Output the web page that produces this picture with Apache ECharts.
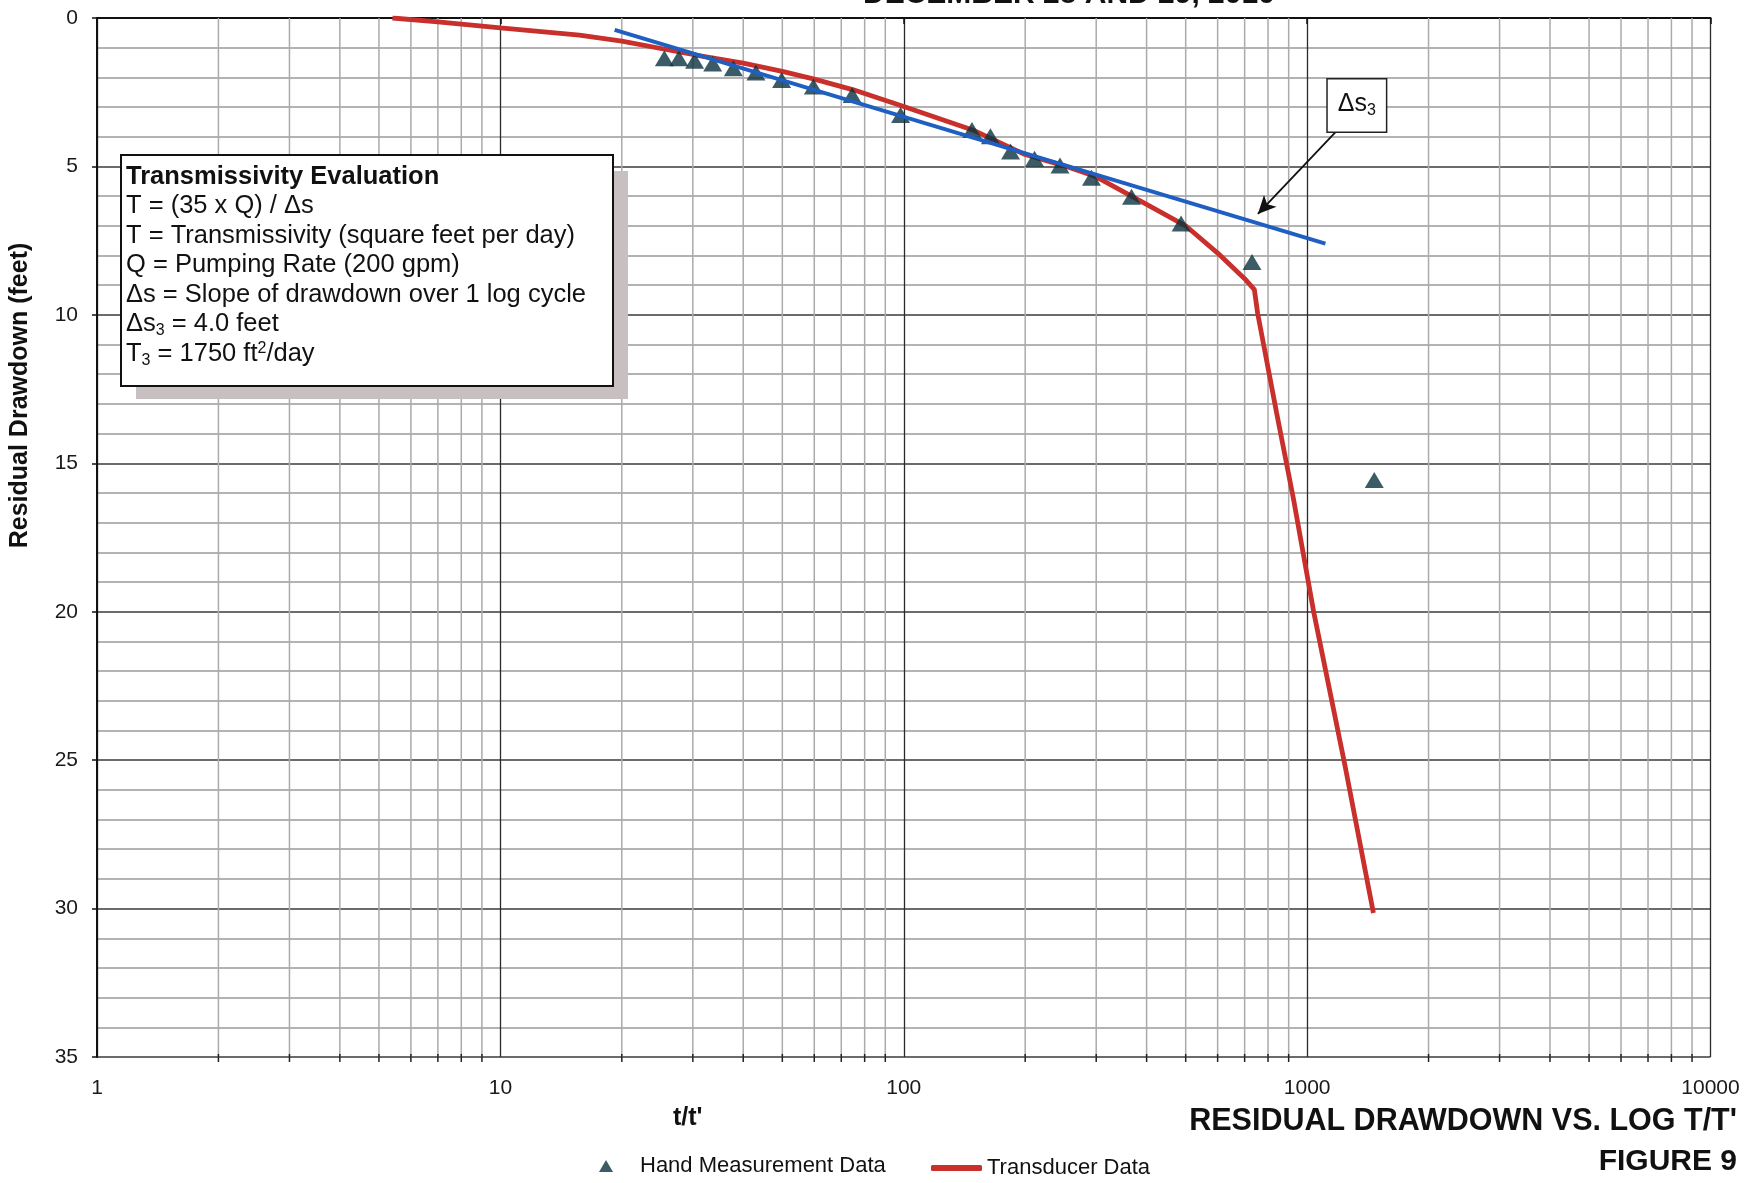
<!DOCTYPE html>
<html>
<head>
<meta charset="utf-8">
<script src="https://cdn.jsdelivr.net/npm/echarts@6/dist/echarts.min.js"></script>
<style>
html,body{margin:0;padding:0;background:#fff;}
#chart{width:1760px;height:1183px;}
</style>
</head>
<body>
<div id="chart"></div>
<script>
// ---------- data ----------
const handT = [25.5, 27.7, 30.3, 33.6, 37.8, 43.0, 49.8, 59.7, 74.5, 98.2, 147.6, 164, 184, 211, 244, 292, 367, 487, 730, 1467];
const handS = [1.36, 1.36, 1.44, 1.53, 1.69, 1.84, 2.09, 2.31, 2.59, 3.27, 3.77, 3.98, 4.50, 4.74, 4.97, 5.38, 6.02, 6.92, 8.22, 15.56];

const transducerT = [5.4, 7, 10, 15.7, 20, 30, 40, 50, 60, 75, 100, 150, 200, 250, 300, 400, 500, 600, 700, 740, 754, 840, 925, 1038, 1242, 1460];
const transducerS = [0.0, 0.13, 0.33, 0.58, 0.78, 1.23, 1.52, 1.80, 2.06, 2.42, 2.98, 3.80, 4.60, 4.98, 5.35, 6.28, 7.00, 7.92, 8.78, 9.15, 9.95, 13.3, 16.2, 20.0, 25.2, 30.15];

const fitT = [19.2, 1110];
const fitS = [0.40, 7.60];

const xTickValues = [1, 10, 100, 1000, 10000];
const yTickValues = [0, 5, 10, 15, 20, 25, 30, 35];
const minorMultipliers = [2, 3, 4, 5, 6, 7, 8, 9];
const decades = [1, 10, 100, 1000];

const arrowFrom = [1205, 3.69];
const arrowTo = [755, 6.6];
const deltaLabelAt = [1328, 2.95];

const titleText = 'DECEMBER 28 AND 29, 2010';
const footerTitle = "RESIDUAL DRAWDOWN VS. LOG T/T'";
const footerFigure = 'FIGURE 9';
const xName = "t/t'";
const yName = 'Residual Drawdown (feet)';
const handName = 'Hand Measurement Data';
const transName = 'Transducer Data';
const boxLines = [
  '{b|Transmissivity Evaluation}',
  '{n|T = (35 x Q) / Δs}',
  '{n|T = Transmissivity (square feet per day)}',
  '{n|Q = Pumping Rate (200 gpm)}',
  '{n|Δs = Slope of drawdown over 1 log cycle}',
  '{n|Δs}{sub|3}{n| = 4.0 feet}',
  '{n|T}{sub|3}{n| = 1750 ft}{sup|2}{n|/day}'
];

// ---------- build ----------
const FONT = '"Liberation Sans", Arial, sans-serif';
const minorX = [];
decades.forEach(d => minorMultipliers.forEach(m => minorX.push(m * d)));

const handData = handT.map((t, i) => [t, handS[i]]);
const transData = transducerT.map((t, i) => [t, transducerS[i]]);
const fitData = fitT.map((t, i) => [t, fitS[i]]);

const chart = echarts.init(document.getElementById('chart'), null, {renderer: 'canvas'});

const option = {
  animation: false,
  backgroundColor: '#ffffff',
  title: {
    text: titleText,
    left: 858,
    top: -25,
    textStyle: {fontSize: 30, fontWeight: 'bold', fontFamily: FONT, color: '#111'}
  },
  grid: {left: 96.5, right: 49.5, top: 18, bottom: 126, containLabel: false},
  xAxis: {
    type: 'log',
    logBase: 10,
    min: 1,
    max: 10000,
    name: xName,
    nameLocation: 'middle',
    nameGap: 49,
    nameTextStyle: {fontSize: 25, fontWeight: 'bold', fontFamily: FONT, color: '#111', padding: [0, 432, 0, 0]},
    axisLine: {show: true, lineStyle: {color: '#111', width: 2}},
    axisTick: {show: true, length: 6, lineStyle: {color: '#111', width: 1.5}},
    axisLabel: {
      fontSize: 21, fontFamily: FONT, color: '#1a1a1a', margin: 21,
      formatter: v => String(Math.round(v))
    },
    splitLine: {show: true, lineStyle: {color: '#2a2a2a', width: 1.3}}
  },
  yAxis: {
    type: 'value',
    inverse: true,
    min: 0,
    max: 35,
    interval: 5,
    name: yName,
    nameLocation: 'middle',
    nameGap: 64,
    nameTextStyle: {fontSize: 25, fontWeight: 'bold', fontFamily: FONT, color: '#111', padding: [0, 0, 0, 284]},
    axisLine: {show: true, lineStyle: {color: '#111', width: 2}},
    axisTick: {show: true, length: 5, lineStyle: {color: '#111', width: 1.5}},
    axisLabel: {fontSize: 21, fontFamily: FONT, color: '#1a1a1a', margin: 19},
    splitLine: {show: true, lineStyle: {color: '#3a3a3a', width: 1.6}},
    minorTick: {show: false, splitNumber: 5},
    minorSplitLine: {show: true, lineStyle: {color: '#9a9a9a', width: 1.6}}
  },
  legend: [
    {
      data: [{name: handName, icon: 'triangle'}],
      left: 599, top: 1155, padding: 0,
      itemWidth: 14, itemHeight: 12,
      selectedMode: false,
      itemStyle: {color: '#0a3340'},
      textStyle: {fontSize: 22, fontFamily: FONT, color: '#111', padding: [0, 0, 0, 22]}
    },
    {
      data: [{name: transName, icon: 'roundRect'}],
      left: 931, top: 1157, padding: 0,
      itemWidth: 51, itemHeight: 6,
      selectedMode: false,
      textStyle: {fontSize: 22, fontFamily: FONT, color: '#111', padding: [0, 0, 0, 0]}
    }
  ],
  graphic: [
    {type: 'rect', z: 100, silent: true, shape: {x: 136, y: 171, width: 492, height: 228}, style: {fill: '#c8bfc1'}},
    {type: 'rect', z: 101, silent: true, shape: {x: 121, y: 155, width: 492, height: 231}, style: {fill: '#ffffff', stroke: '#111', lineWidth: 2}},
    {
      type: 'text', z: 102, silent: true, x: 126, y: 162,
      style: {
        text: boxLines.join('\n'),
        verticalAlign: 'top',
        align: 'left',
        fill: '#111',
        rich: {
          b: {fontSize: 25.5, fontWeight: 'bold', fontFamily: FONT, lineHeight: 29.5, color: '#111'},
          n: {fontSize: 25.5, fontFamily: FONT, lineHeight: 29.5, color: '#111'},
          sub: {fontSize: 16, fontFamily: FONT, lineHeight: 16, padding: [13, 0, 0, 0], color: '#111'},
          sup: {fontSize: 16, fontFamily: FONT, lineHeight: 16, padding: [0, 0, 10, 0], color: '#111'}
        }
      }
    },
    {
      type: 'text', z: 102, silent: true, x: 1737, y: 1122,
      style: {text: footerTitle, align: 'right', verticalAlign: 'middle', fontSize: 30.5, fontWeight: 'bold', fontFamily: FONT, fill: '#111'}
    },
    {
      type: 'text', z: 102, silent: true, x: 1737, y: 1162,
      style: {text: footerFigure, align: 'right', verticalAlign: 'middle', fontSize: 30, fontWeight: 'bold', fontFamily: FONT, fill: '#111'}
    }
  ],
  series: [
    {
      name: 'minor grid',
      type: 'custom',
      silent: true,
      z: 1,
      clip: false,
      data: minorX.map(v => [v, 0]),
      encode: {x: 0, y: 1},
      renderItem: (params, api) => {
        const v = api.value(0);
        const top = api.coord([v, 0]);
        const bot = api.coord([v, 35]);
        return {
          type: 'group',
          children: [
            {type: 'line', shape: {x1: top[0], y1: top[1], x2: bot[0], y2: bot[1]}, style: {stroke: '#ababab', lineWidth: 1.5}},
            {type: 'line', shape: {x1: bot[0], y1: bot[1] - 3, x2: bot[0], y2: bot[1] + 5}, style: {stroke: '#222', lineWidth: 1.5}}
          ]
        };
      }
    },
    {
      name: transName,
      type: 'line',
      data: transData,
      showSymbol: false,
      symbol: 'none',
      smooth: false,
      z: 3,
      color: '#c9302c',
      lineStyle: {color: '#c9302c', width: 4.8}
    },
    {
      name: handName,
      type: 'scatter',
      data: handData,
      symbol: 'triangle',
      symbolSize: [19, 16],
      z: 4,
      color: '#0a3340',
      itemStyle: {color: '#0a3340'}
    },
    {
      name: 'Straight-line fit',
      type: 'line',
      data: fitData,
      showSymbol: false,
      symbol: 'none',
      z: 5,
      color: '#1f5fc2',
      lineStyle: {color: '#1f5fc2', width: 4},
      markLine: {
        silent: true,
        symbol: ['none', 'arrow'],
        symbolSize: [13, 18],
        lineStyle: {color: '#111', width: 1.8, type: 'solid'},
        label: {show: false},
        emphasis: {disabled: true},
        data: [[{coord: arrowFrom}, {coord: arrowTo}]]
      },
      markPoint: {
        silent: true,
        symbol: 'rect',
        symbolSize: 1,
        itemStyle: {color: 'rgba(0,0,0,0)'},
        label: {
          show: true,
          position: 'inside',
          formatter: '{d|Δs}{s|3}',
          backgroundColor: '#fff',
          borderColor: '#222',
          borderWidth: 1.5,
          padding: [10, 10, 12, 10],
          rich: {
            d: {fontSize: 25, fontFamily: FONT, color: '#111', lineHeight: 30},
            s: {fontSize: 16, fontFamily: FONT, color: '#111', lineHeight: 16, padding: [13, 0, 0, 0]}
          }
        },
        data: [{coord: deltaLabelAt}]
      }
    }
  ]
};

chart.setOption(option);
</script>
</body>
</html>
